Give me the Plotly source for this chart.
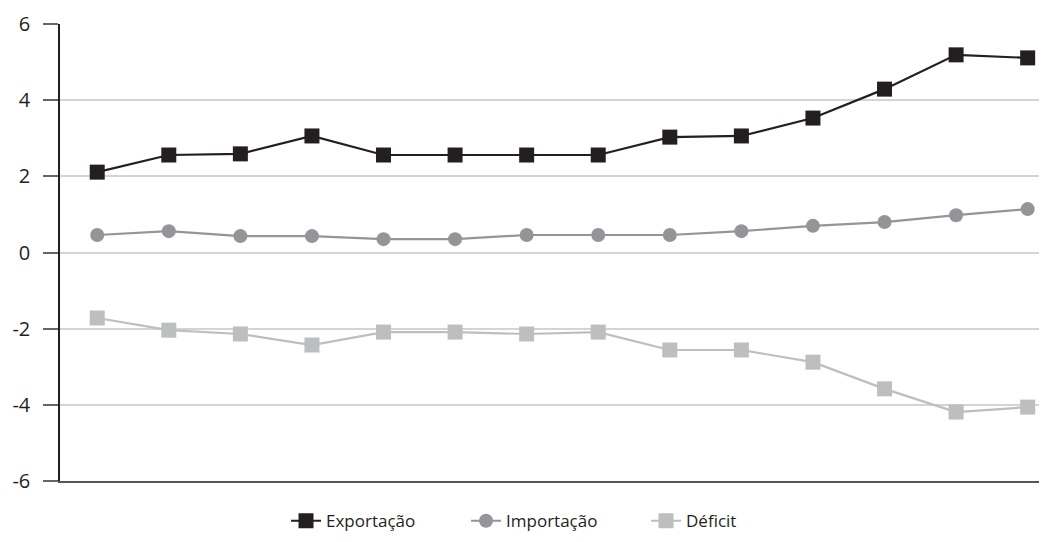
import plotly.graph_objects as go

x_idx = list(range(14))
exportacao = [2.11, 2.56, 2.59, 3.06, 2.56, 2.56, 2.56, 2.56, 3.03, 3.06, 3.53, 4.29, 5.19, 5.11]
importacao = [0.46, 0.56, 0.43, 0.43, 0.35, 0.35, 0.46, 0.46, 0.46, 0.56, 0.70, 0.80, 0.98, 1.14]
deficit = [-1.72, -2.04, -2.14, -2.43, -2.09, -2.09, -2.14, -2.09, -2.56, -2.56, -2.88, -3.58, -4.19, -4.06]
y_ticks = [-6, -4, -2, 0, 2, 4, 6]
y_tick_labels = ["-6", "-4", "-2", "0", "2", "4", "6"]

fig = go.Figure()
fig.add_trace(go.Scatter(x=x_idx, y=exportacao, name="Exportação", mode="lines+markers",
                         line=dict(color="#231f20", width=2.2),
                         marker=dict(symbol="square", size=15, color="#231f20")))
fig.add_trace(go.Scatter(x=x_idx, y=importacao, name="Importação", mode="lines+markers",
                         line=dict(color="#939598", width=2.2),
                         marker=dict(symbol="circle", size=14, color="#939598")))
fig.add_trace(go.Scatter(x=x_idx, y=deficit, name="Déficit", mode="lines+markers",
                         line=dict(color="#bcbec0", width=2.2),
                         marker=dict(symbol="square", size=15, color="#bcbec0")))

fig.update_layout(
    width=1039, height=534,
    margin=dict(l=52, r=0, t=16, b=61),
    paper_bgcolor="white", plot_bgcolor="white",
    font=dict(family="Open Sans, Noto Sans, sans-serif", color="#231f20", size=16),
    showlegend=True,
    legend=dict(orientation="h", x=0.229, xanchor="left", y=-0.088, yanchor="middle",
                font=dict(size=17, color="#231f20"), itemwidth=30, traceorder="normal",
                entrywidth=135, entrywidthmode="pixels"),
    xaxis=dict(range=[-0.52, 13.27], showgrid=False, showticklabels=False, ticks="",
               zeroline=False, showline=True, linecolor="#555555", linewidth=2,
               automargin=False),
    yaxis=dict(range=[-6, 6], tickvals=y_ticks, ticktext=y_tick_labels,
               showgrid=True, gridcolor="#d4d4d4", gridwidth=1.5,
               zeroline=False, showline=True, linecolor="#231f20", linewidth=1.5,
               ticks="outside", ticklen=15, tickcolor="#666666", tickwidth=1.5,
               ticklabelstandoff=9, tickfont=dict(size=20, color="#231f20"),
               automargin=False),
)

fig.write_html("out.html")
